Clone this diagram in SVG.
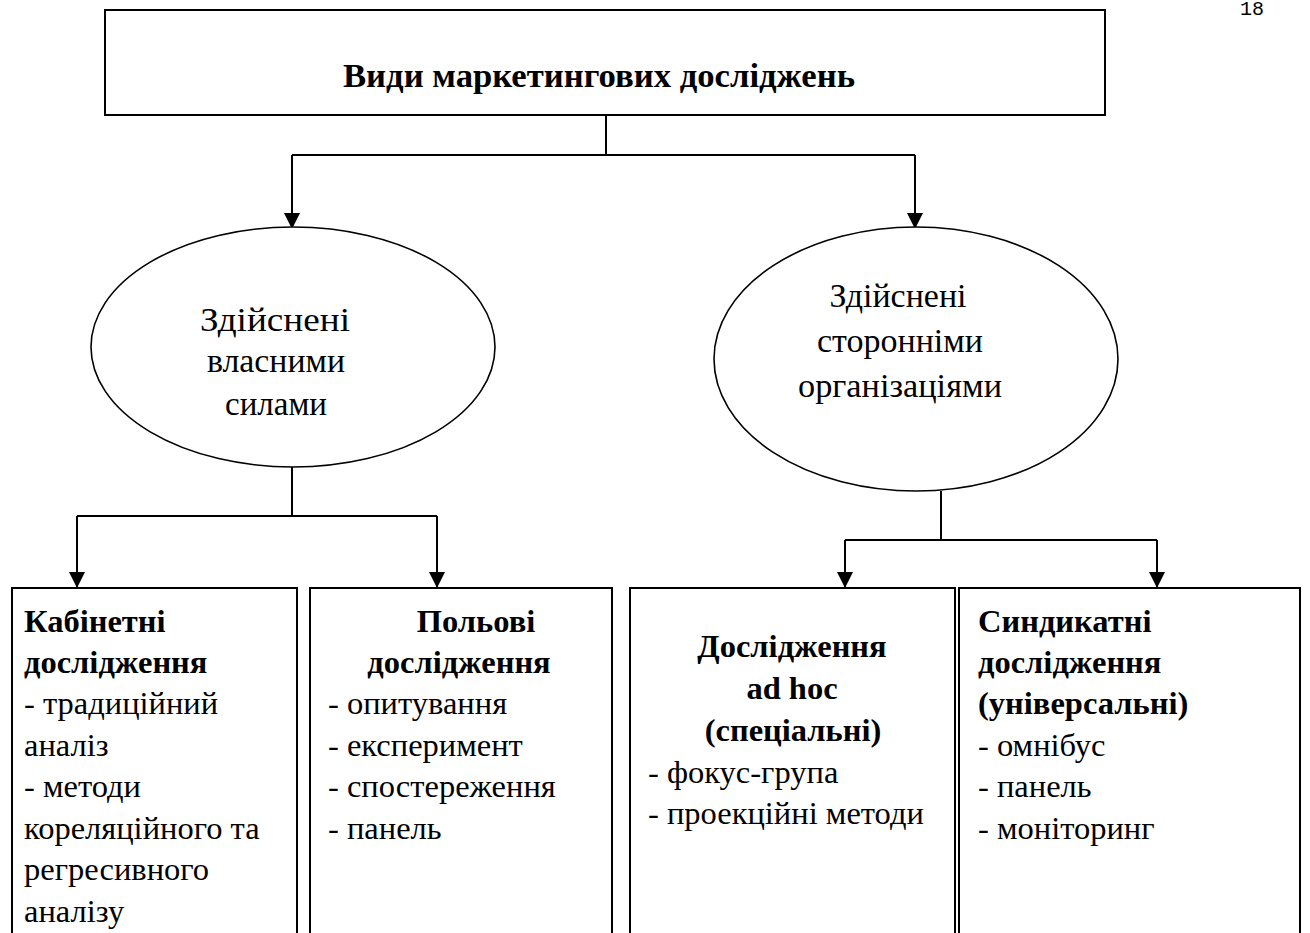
<svg xmlns="http://www.w3.org/2000/svg" width="1310" height="933" viewBox="0 0 1310 933">
<defs>
<marker id="arr" markerUnits="userSpaceOnUse" markerWidth="16" markerHeight="16" refX="14" refY="7" orient="auto" viewBox="0 0 14 14">
<path d="M0,0 L14,7 L0,14 Z" fill="#000"/>
</marker>
</defs>
<style>
.box{fill:#fff;stroke:#000;stroke-width:2}
.ell{fill:#fff;stroke:#000;stroke-width:1.6}
.ln{fill:none;stroke:#000;stroke-width:2}
.t{font-family:"Liberation Serif","Times New Roman",serif;font-size:32.5px;fill:#000}
.b{font-weight:bold}
.c{text-anchor:middle}
.et{font-family:"Liberation Serif","Times New Roman",serif;font-size:34px;fill:#000;text-anchor:middle}
</style>
<rect width="1310" height="933" fill="#fff"/>
<text x="1240" y="15" style="font-family:'Liberation Mono',monospace;font-size:20px">18</text>

<g id="connectors">
<path class="ln" d="M606,115 V155 M292,155 H915"/>
<path class="ln" d="M292,155 V229" marker-end="url(#arr)"/>
<path class="ln" d="M915,155 V229" marker-end="url(#arr)"/>
<path class="ln" d="M292,467 V516 M77,516 H437"/>
<path class="ln" d="M77,516 V588" marker-end="url(#arr)"/>
<path class="ln" d="M437,516 V588" marker-end="url(#arr)"/>
<path class="ln" d="M941,491 V540 M845,540 H1157"/>
<path class="ln" d="M845,540 V588" marker-end="url(#arr)"/>
<path class="ln" d="M1157,540 V588" marker-end="url(#arr)"/>
</g>

<g id="root">
<rect class="box" x="105" y="10" width="1000" height="105"/>
<text class="t b c" x="599" y="87" style="font-size:33px" textLength="512" lengthAdjust="spacingAndGlyphs">Види маркетингових досліджень</text>
</g>

<g id="own">
<ellipse class="ell" cx="293" cy="347" rx="202" ry="120"/>
<text class="et" x="275" y="331" textLength="150" lengthAdjust="spacingAndGlyphs">Здійснені</text>
<text class="et" x="276" y="372" textLength="138" lengthAdjust="spacingAndGlyphs">власними</text>
<text class="et" x="276" y="415" textLength="102" lengthAdjust="spacingAndGlyphs">силами</text>
</g>

<g id="outside">
<ellipse class="ell" cx="916" cy="359" rx="202" ry="132"/>
<text class="et" x="898" y="307" textLength="137" lengthAdjust="spacingAndGlyphs">Здійснені</text>
<text class="et" x="900" y="352" textLength="166" lengthAdjust="spacingAndGlyphs">сторонніми</text>
<text class="et" x="900" y="397" textLength="204" lengthAdjust="spacingAndGlyphs">організаціями</text>
</g>

<g id="desk">
<rect class="box" x="12" y="588" width="285" height="360"/>
<text class="t b" x="24" y="632">Кабінетні</text>
<text class="t b" x="24" y="673">дослідження</text>
<text class="t" x="24" y="714">- традиційний</text>
<text class="t" x="24" y="756">аналіз</text>
<text class="t" x="24" y="797">- методи</text>
<text class="t" x="24" y="839">кореляційного та</text>
<text class="t" x="24" y="880">регресивного</text>
<text class="t" x="24" y="922">аналізу</text>
</g>

<g id="field">
<rect class="box" x="310" y="588" width="302" height="360"/>
<text class="t b c" x="476" y="632">Польові</text>
<text class="t b c" x="459" y="673">дослідження</text>
<text class="t" x="328" y="714">- опитування</text>
<text class="t" x="328" y="756">- експеримент</text>
<text class="t" x="328" y="797">- спостереження</text>
<text class="t" x="328" y="839">- панель</text>
</g>

<g id="adhoc">
<rect class="box" x="630" y="588" width="325" height="360"/>
<text class="t b c" x="792" y="657">Дослідження</text>
<text class="t b c" x="792" y="699">ad hoc</text>
<text class="t b c" x="793" y="741">(спеціальні)</text>
<text class="t" x="648" y="783">- фокус-група</text>
<text class="t" x="648" y="824">- проекційні методи</text>
</g>

<g id="syndicate">
<rect class="box" x="959" y="588" width="341" height="360"/>
<text class="t b" x="978" y="632">Синдикатні</text>
<text class="t b" x="978" y="673">дослідження</text>
<text class="t b" x="978" y="714">(універсальні)</text>
<text class="t" x="978" y="756">- омнібус</text>
<text class="t" x="978" y="797">- панель</text>
<text class="t" x="978" y="839">- моніторинг</text>
</g>
</svg>
